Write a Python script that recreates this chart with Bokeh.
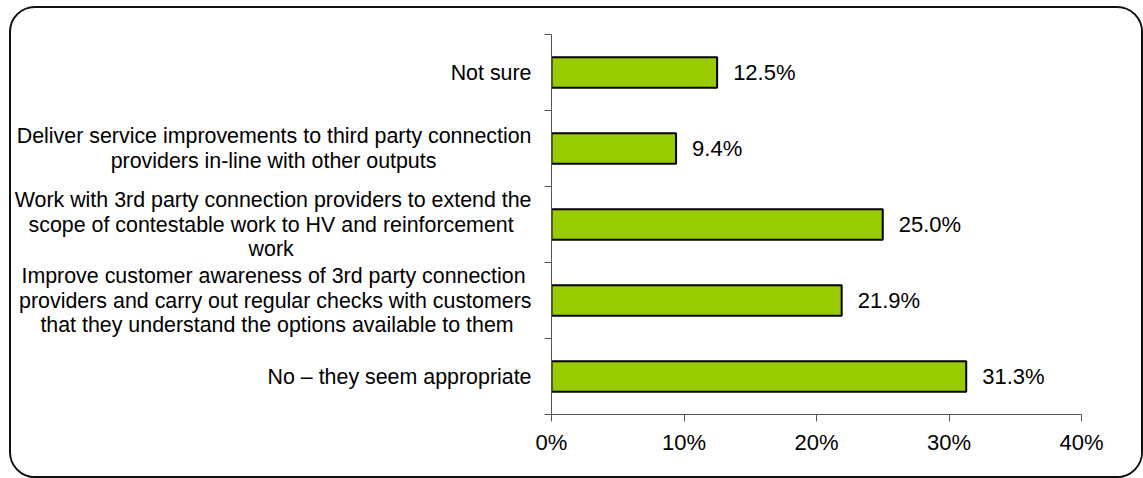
from bokeh.plotting import figure
from bokeh.models import Range1d, FixedTicker, PrintfTickFormatter, AllLabels
from bokeh.core.properties import value
from bokeh.embed import file_html
from bokeh.resources import INLINE

categories = [
    "Not sure",
    "Deliver service improvements to third party connection\nproviders in-line with other outputs",
    "Work with 3rd party connection providers to extend the\nscope of contestable work to HV and reinforcement\nwork",
    "Improve customer awareness of 3rd party connection\nproviders and carry out regular checks with customers\nthat they understand the options available to them",
    "No \u2013 they seem appropriate",
]
values = [12.5, 9.4, 25.0, 21.9, 31.3]
x_ticks = [0, 10, 20, 30, 40]

FONT = "Liberation Sans"
CAT_SIZE = 21.4
VAL_SIZE = 22
LINE_H_PX = 25.0
FRAME_H_PX = 380.0

# Arial / Liberation Sans advance widths (per 1000 em), used to centre the
# lines of each multi-line category label inside its right-aligned block
W = {' ': 278, '-': 333, '\u2013': 556, '.': 278, '%': 889}
W.update({d: 556 for d in "0123456789"})
W.update(dict(zip("abcdefghijklmnopqrstuvwxyz",
                  [556, 556, 500, 556, 556, 278, 556, 556, 222, 222, 500, 222, 833,
                   556, 556, 556, 556, 333, 500, 278, 556, 500, 722, 500, 500, 500])))
W.update(dict(zip("ABCDEFGHIJKLMNOPQRSTUVWXYZ",
                  [667, 667, 722, 722, 667, 611, 778, 722, 278, 500, 667, 556, 833,
                   722, 778, 667, 778, 722, 667, 611, 722, 667, 944, 667, 667, 611])))


def text_w(s):
    return sum(W.get(c, 556) for c in s)


n = len(categories)
pos = [n - i - 0.5 for i in range(n)]
line_step = LINE_H_PX * n / FRAME_H_PX  # data units between text lines

line_ticks, overrides = [], {}
for c, y in zip(categories, pos):
    lines = c.split("\n")
    bw = max(text_w(s) for s in lines)
    for i, s in enumerate(lines):
        ty = round(y - (i - (len(lines) - 1) / 2.0) * line_step, 6)
        pad = int(round((bw - text_w(s)) / 2.0 / W[' ']))
        line_ticks.append(ty)
        overrides[ty] = s + "\u00a0" * pad

p = figure(width=1134, height=472, output_backend="svg", toolbar_location=None,
           x_range=Range1d(0, 40), y_range=Range1d(0, n),
           min_border_left=539, min_border_right=64, min_border_top=26,
           min_border_bottom=66)
p.xgrid.visible = False
p.ygrid.visible = False
p.outline_line_color = None
p.background_fill_color = "white"
p.border_fill_color = "white"
p.styles = {"border": "2px solid #111", "border-radius": "26px",
            "box-sizing": "border-box", "overflow": "hidden",
            "margin-left": "9px", "margin-top": "6px"}

p.hbar(y=pos, left=0, right=values, height=0.4, fill_color="#99CC00",
       line_color="black", line_width=2)

p.text(x=values, y=pos, text=[f"{v:.1f}%" for v in values], x_offset=16,
       text_align="left", text_baseline="middle", text_color="black",
       text_font=value(FONT), text_font_size=f"{VAL_SIZE}px")

xa = p.xaxis[0]
xa.ticker = FixedTicker(ticks=x_ticks)
xa.formatter = PrintfTickFormatter(format="%d%%")
xa.major_tick_in = 0
xa.major_tick_out = 7
xa.minor_tick_line_color = None
xa.axis_line_color = "#555555"
xa.major_tick_line_color = "#555555"
xa.major_label_text_font = FONT
xa.major_label_text_font_size = f"{VAL_SIZE}px"
xa.major_label_text_color = "black"
xa.major_label_standoff = 8

ya = p.yaxis[0]
ya.ticker = FixedTicker(ticks=line_ticks, minor_ticks=list(range(n + 1)))
ya.major_label_overrides = overrides
ya.major_label_policy = AllLabels()
ya.major_tick_in = 0
ya.major_tick_out = 0
ya.major_tick_line_color = None
ya.minor_tick_in = 0
ya.minor_tick_out = 7
ya.minor_tick_line_color = "#555555"
ya.axis_line_color = "#555555"
ya.major_label_text_font = FONT
ya.major_label_text_font_size = f"{CAT_SIZE}px"
ya.major_label_text_color = "black"
ya.major_label_standoff = 13

open("out.html", "w").write(file_html(p, INLINE))
